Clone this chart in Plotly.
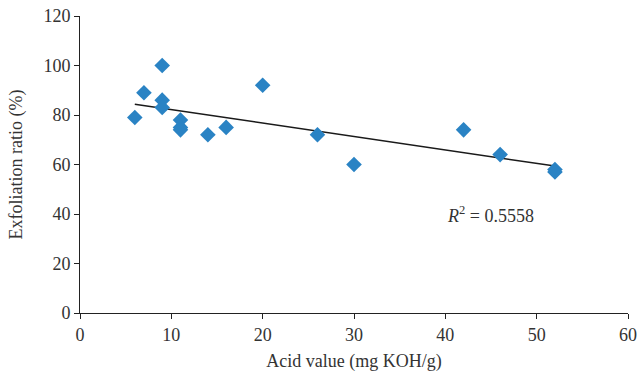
import numpy as np
import plotly.graph_objects as go

acid_value = [6, 7, 9, 9, 9, 11, 11, 11, 14, 16, 20, 26, 30, 42, 46, 52, 52]
exfoliation = [79, 89, 100, 86, 83, 78, 75, 74, 72, 75, 92, 72, 60, 74, 64, 58, 57]
r2_label = "<i>R</i><sup>2</sup> = 0.5558"

slope, intercept = np.polyfit(acid_value, exfoliation, 1)
x_fit = [min(acid_value), max(acid_value)]
y_fit = [slope * x + intercept for x in x_fit]

font = dict(family="Liberation Serif, Times New Roman, serif", size=18, color="#333333")

fig = go.Figure()
fig.add_trace(go.Scatter(x=x_fit, y=y_fit, mode="lines",
                         line=dict(color="#1a1a1a", width=1.5), hoverinfo="skip"))
fig.add_trace(go.Scatter(x=acid_value, y=exfoliation, mode="markers",
                         marker=dict(symbol="diamond", size=12, color="#2a83c4",
                                     line=dict(width=0))))

axis_common = dict(showgrid=False, zeroline=False, showline=True, linecolor="#222222",
                   linewidth=1, ticks="outside", ticklen=5, tickcolor="#222222",
                   tickfont=font, title_font=font, automargin=False)

fig.update_xaxes(range=[0, 60], tickvals=[0, 10, 20, 30, 40, 50, 60],
                 title_text="Acid value (mg KOH/g)", title_standoff=10, **axis_common)
fig.update_yaxes(range=[0, 120], tickvals=[0, 20, 40, 60, 80, 100, 120],
                 title_text="Exfoliation ratio (%)", title_standoff=16, **axis_common)

fig.add_annotation(x=40.0, y=39.6, text=r2_label, showarrow=False, xanchor="left",
                   yanchor="middle", font=font)

fig.update_layout(width=638, height=374, margin=dict(l=80, r=10, t=16, b=61),
                  plot_bgcolor="white", paper_bgcolor="white", showlegend=False,
                  font=font)

fig.write_html("out.html", config={"displayModeBar": False},
               post_script="document.body.style.margin='0px';")
